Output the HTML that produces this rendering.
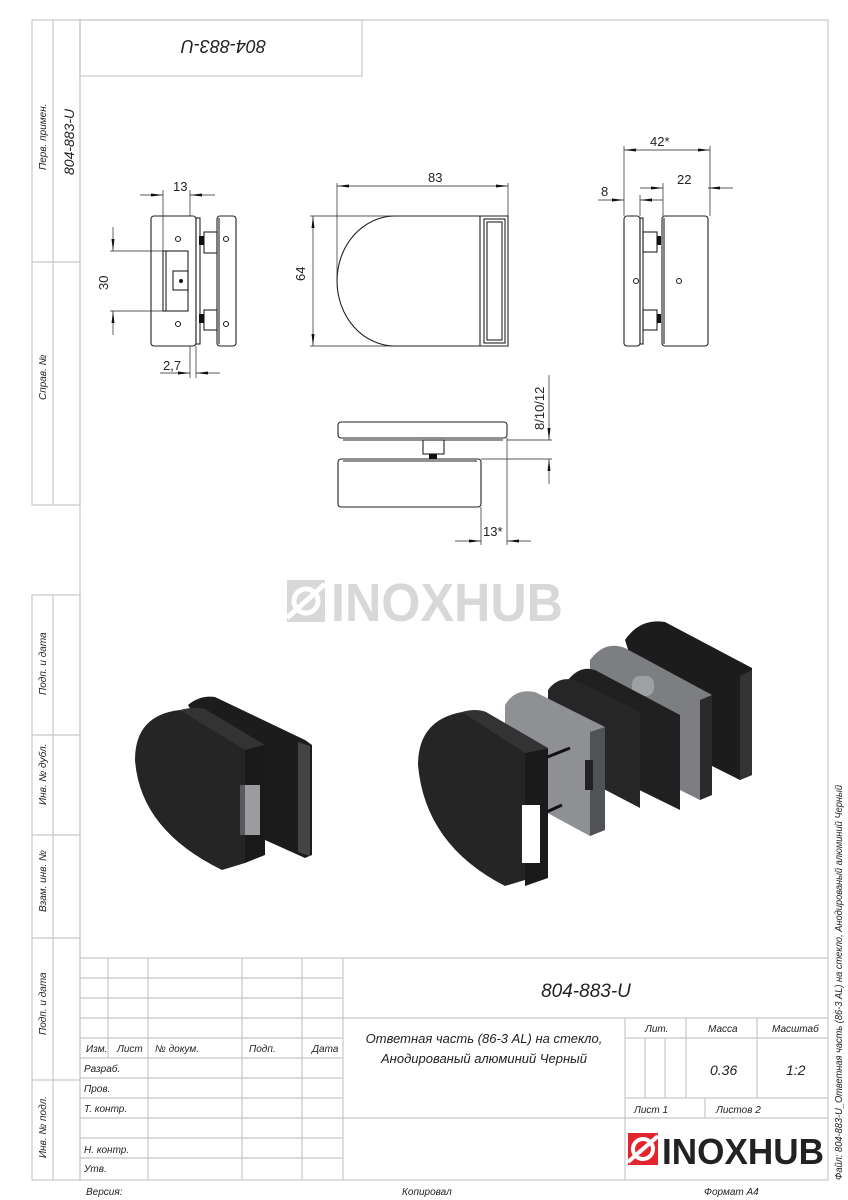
<!DOCTYPE html>
<html><head><meta charset="utf-8"><style>
html,body{margin:0;padding:0;background:#fff}
svg{display:block}
.t{font-family:"Liberation Sans",sans-serif;font-style:italic;fill:#222}
.d{font-family:"Liberation Sans",sans-serif;fill:#222}
</style></head><body>
<svg width="848" height="1200" viewBox="0 0 848 1200" xmlns="http://www.w3.org/2000/svg">
<defs>
<marker id="a" markerWidth="12" markerHeight="6" refX="12" refY="3" orient="auto-start-reverse" markerUnits="userSpaceOnUse"><path d="M0,1.5 L12,3 L0,4.5 Z" fill="#111"/></marker>
</defs>
<g fill="none" stroke="#c8c8c8" stroke-width="1.2">
<rect x="80" y="20" width="748" height="1160"/>
<rect x="80" y="20" width="282" height="56"/>
<rect x="32" y="20" width="48" height="485"/>
<line x1="53" y1="20" x2="53" y2="505"/><line x1="32" y1="262" x2="80" y2="262"/>
<rect x="32" y="595" width="48" height="585"/>
<line x1="53" y1="595" x2="53" y2="1180"/>
<line x1="32" y1="735" x2="80" y2="735"/><line x1="32" y1="835" x2="80" y2="835"/>
<line x1="32" y1="938" x2="80" y2="938"/><line x1="32" y1="1080" x2="80" y2="1080"/>
<line x1="80" y1="958" x2="828" y2="958"/>
<line x1="80" y1="978" x2="343" y2="978"/><line x1="80" y1="998" x2="343" y2="998"/>
<line x1="80" y1="1018" x2="828" y2="1018"/><line x1="80" y1="1038" x2="343" y2="1038"/>
<line x1="625" y1="1038" x2="828" y2="1038"/>
<line x1="80" y1="1058" x2="343" y2="1058"/><line x1="80" y1="1078" x2="343" y2="1078"/>
<line x1="80" y1="1098" x2="343" y2="1098"/><line x1="625" y1="1098" x2="828" y2="1098"/>
<line x1="80" y1="1118" x2="828" y2="1118"/><line x1="80" y1="1138" x2="343" y2="1138"/>
<line x1="80" y1="1158" x2="343" y2="1158"/>
<line x1="108" y1="958" x2="108" y2="1058"/><line x1="148" y1="958" x2="148" y2="1180"/>
<line x1="242" y1="958" x2="242" y2="1180"/><line x1="302" y1="958" x2="302" y2="1180"/>
<line x1="343" y1="958" x2="343" y2="1180"/>
<line x1="625" y1="1018" x2="625" y2="1180"/><line x1="686" y1="1018" x2="686" y2="1098"/>
<line x1="757" y1="1018" x2="757" y2="1098"/><line x1="705" y1="1098" x2="705" y2="1118"/>
<line x1="645" y1="1038" x2="645" y2="1098"/><line x1="665" y1="1038" x2="665" y2="1098"/>
</g>
<g class="t" font-size="10">
<text transform="translate(46,170) rotate(-90)">Перв. примен.</text>
<text transform="translate(46,400) rotate(-90)">Справ. №</text>
<text transform="translate(46,695) rotate(-90)">Подп. и дата</text>
<text transform="translate(46,805) rotate(-90)">Инв. № дубл.</text>
<text transform="translate(46,912) rotate(-90)">Взам. инв. №</text>
<text transform="translate(46,1035) rotate(-90)">Подп. и дата</text>
<text transform="translate(46,1158) rotate(-90)">Инв. № подл.</text>
<text transform="translate(74,175) rotate(-90)" font-size="14">804-883-U</text>
<text transform="translate(842,1180) rotate(-90)" font-size="10" textLength="395" lengthAdjust="spacingAndGlyphs">Файл: 804-883-U_Ответная часть (86-3 AL)  на стекло, Анодированый алюминий Черный</text>
<text transform="translate(266,40) rotate(180)" font-size="18">804-883-U</text>
</g>
<g class="t" font-size="10">
<text x="86" y="1052">Изм.</text><text x="117" y="1052">Лист</text><text x="155" y="1052">№ докум.</text>
<text x="249" y="1052">Подп.</text><text x="312" y="1052">Дата</text>
<text x="84" y="1072">Разраб.</text><text x="84" y="1092">Пров.</text><text x="84" y="1112">Т. контр.</text>
<text x="84" y="1153">Н. контр.</text><text x="84" y="1172">Утв.</text>
<text x="645" y="1032">Лит.</text><text x="708" y="1032">Масса</text><text x="772" y="1032">Масштаб</text>
<text x="634" y="1113">Лист 1</text><text x="716" y="1113">Листов 2</text>
<text x="710" y="1075" font-size="14">0.36</text><text x="786" y="1075" font-size="14">1:2</text>
<text x="484" y="1043" font-size="13" text-anchor="middle">Ответная часть (86-3 AL)  на стекло,</text>
<text x="484" y="1063" font-size="13" text-anchor="middle">Анодированый алюминий Черный</text>
<text x="586" y="997" font-size="19" text-anchor="middle">804-883-U</text>
<text x="86" y="1195">Версия:</text><text x="402" y="1195">Копировал</text><text x="704" y="1195">Формат A4</text>
</g>
<rect x="628" y="1133" width="30" height="32" fill="#e3262d"/>
<circle cx="643" cy="1149" r="10" fill="none" stroke="#fff" stroke-width="4"/>
<line x1="628" y1="1162" x2="658" y2="1136" stroke="#fff" stroke-width="4"/>
<text x="662" y="1164" font-family="Liberation Sans,sans-serif" font-weight="bold" font-size="36" fill="#222" textLength="162" lengthAdjust="spacingAndGlyphs">INOXHUB</text>
<rect x="287" y="580" width="38" height="42" fill="#d8d8d8"/>
<circle cx="306" cy="601" r="12" fill="none" stroke="#fff" stroke-width="5"/>
<line x1="287" y1="618" x2="325" y2="584" stroke="#fff" stroke-width="5"/>
<text x="331" y="621" font-family="Liberation Sans,sans-serif" font-weight="bold" font-size="54" fill="#d8d8d8" textLength="232" lengthAdjust="spacingAndGlyphs">INOXHUB</text>

<g fill="none" stroke="#222" stroke-width="1.1">
<rect x="151" y="216" width="45" height="130" rx="3"/>
<rect x="196" y="218" width="4" height="126"/>
<rect x="217" y="216" width="19" height="130" rx="3"/>
<line x1="219" y1="218" x2="219" y2="344"/>
<rect x="204" y="232" width="13" height="21"/><rect x="204" y="310" width="13" height="20"/>
<rect x="163" y="251" width="25" height="60"/><line x1="166" y1="251" x2="166" y2="311"/>
<rect x="173" y="271" width="15" height="19"/>
<circle cx="178" cy="239" r="2.5"/><circle cx="178" cy="324" r="2.5"/>
<circle cx="226" cy="239" r="2.5"/><circle cx="226" cy="324" r="2.5"/>
<path d="M395,216 L508,216 L508,346 L395,346 A58,65 0 0 1 395,216 Z"/>
<line x1="480" y1="216" x2="480" y2="346"/>
<rect x="484" y="219" width="21" height="124"/><rect x="487" y="222" width="15" height="118"/>
<rect x="624" y="216" width="16" height="130" rx="3"/>
<rect x="640" y="218" width="3" height="126"/>
<rect x="643" y="232" width="14" height="20"/><rect x="643" y="310" width="14" height="20"/>
<rect x="662" y="216" width="46" height="130" rx="3"/><line x1="664" y1="218" x2="664" y2="344"/>
<circle cx="636" cy="281" r="2.5"/><circle cx="679" cy="281" r="2.5"/>
<rect x="338" y="422" width="169" height="16" rx="3"/>
<line x1="343" y1="440" x2="503" y2="440"/>
<rect x="423" y="440" width="21" height="14"/>
<rect x="338" y="459" width="143" height="48" rx="3"/>
<line x1="343" y1="461" x2="477" y2="461"/>
</g>
<g fill="#111">
<rect x="199" y="236" width="5" height="9"/><rect x="199" y="314" width="5" height="9"/>
<rect x="657" y="236" width="4" height="9"/><rect x="657" y="314" width="4" height="9"/>
<rect x="429" y="454" width="8" height="5"/>
<circle cx="181" cy="281" r="2"/>
</g>
<g fill="none" stroke="#222" stroke-width="0.7">
<line x1="163" y1="190" x2="163" y2="251"/><line x1="190" y1="190" x2="190" y2="216"/>
<line x1="140" y1="195" x2="163" y2="195" marker-end="url(#a)"/><line x1="215" y1="195" x2="190" y2="195" marker-end="url(#a)"/>
<line x1="110" y1="251" x2="163" y2="251"/><line x1="110" y1="311" x2="163" y2="311"/>
<line x1="113" y1="227" x2="113" y2="251" marker-end="url(#a)"/><line x1="113" y1="335" x2="113" y2="311" marker-end="url(#a)"/>
<line x1="190" y1="346" x2="190" y2="378"/><line x1="196" y1="346" x2="196" y2="378"/>
<line x1="160" y1="373" x2="190" y2="373" marker-end="url(#a)"/><line x1="220" y1="373" x2="196" y2="373" marker-end="url(#a)"/>
<line x1="337" y1="183" x2="337" y2="281"/><line x1="508" y1="183" x2="508" y2="216"/>
<line x1="337" y1="186" x2="508" y2="186" marker-start="url(#a)" marker-end="url(#a)"/>
<line x1="310" y1="216" x2="395" y2="216"/><line x1="310" y1="346" x2="395" y2="346"/>
<line x1="313" y1="216" x2="313" y2="346" marker-start="url(#a)" marker-end="url(#a)"/>
<line x1="624" y1="146" x2="624" y2="216"/><line x1="710" y1="146" x2="710" y2="216"/>
<line x1="624" y1="150" x2="710" y2="150" marker-start="url(#a)" marker-end="url(#a)"/>
<line x1="663" y1="183" x2="663" y2="216"/><line x1="640" y1="195" x2="640" y2="216"/>
<line x1="640" y1="188" x2="663" y2="188" marker-end="url(#a)"/><line x1="733" y1="188" x2="708" y2="188" marker-end="url(#a)"/>
<line x1="598" y1="200" x2="624" y2="200" marker-end="url(#a)"/><line x1="663" y1="200" x2="640" y2="200" marker-end="url(#a)"/>
<line x1="507" y1="440" x2="552" y2="440"/><line x1="481" y1="459" x2="552" y2="459"/>
<line x1="549" y1="375" x2="549" y2="440" marker-end="url(#a)"/><line x1="549" y1="484" x2="549" y2="459" marker-end="url(#a)"/>
<line x1="481" y1="507" x2="481" y2="545"/><line x1="507" y1="438" x2="507" y2="545"/>
<line x1="455" y1="541" x2="481" y2="541" marker-end="url(#a)"/><line x1="531" y1="541" x2="507" y2="541" marker-end="url(#a)"/>
</g>
<g class="d" font-size="13">
<text x="173" y="191">13</text><text transform="translate(108,290) rotate(-90)">30</text>
<text x="163" y="370">2,7</text><text x="428" y="182">83</text>
<text transform="translate(305,281) rotate(-90)">64</text>
<text x="650" y="146">42*</text><text x="677" y="184">22</text><text x="601" y="196">8</text>
<text transform="translate(544,430) rotate(-90)">8/10/12</text><text x="483" y="536">13*</text>
</g>

<path d="M188,705 Q200,695 215,697 L305,740 L312,745 L312,855 L305,858 L265,840 Z" fill="#1c1c1c"/>
<path d="M298,742 L310,746 L310,856 L298,852 Z" fill="#444"/>
<path d="M135,760 Q135,715 180,710 L245,742 L245,863 L222,870 Q140,830 135,760 Z" fill="#252525"/>
<path d="M180,710 Q195,706 205,709 L265,745 L245,750 Z" fill="#333"/>
<path d="M245,750 L265,745 L265,855 L245,863 Z" fill="#1a1a1a"/>
<rect x="240" y="785" width="20" height="50" fill="#9a9ca0"/>
<rect x="240" y="785" width="5" height="50" fill="#5a5a5e"/>

<path d="M625,640 Q640,618 665,622 L752,668 L752,775 L740,780 L700,760 L655,735 Z" fill="#1c1c1c"/>
<path d="M740,676 L752,670 L752,775 L740,780 Z" fill="#333"/>
<path d="M590,660 Q605,640 625,648 L712,695 L712,795 L700,800 L590,745 Z" fill="#7c7e82"/>
<path d="M700,700 L712,695 L712,795 L700,800 Z" fill="#2a2a2a"/>
<rect x="632" y="676" width="22" height="20" rx="8" fill="#9ea0a4"/>
<path d="M568,680 Q580,665 595,670 L680,715 L680,810 L568,755 Z" fill="#202020"/>
<path d="M548,690 Q558,676 575,680 L640,712 L640,808 L548,760 Z" fill="#262626"/>
<path d="M505,705 Q515,688 535,692 L605,727 L605,830 L590,836 L505,790 Z" fill="#8e9094"/>
<path d="M590,732 L605,727 L605,830 L590,836 Z" fill="#505257"/>
<rect x="585" y="760" width="8" height="30" fill="#222"/>
<line x1="540" y1="760" x2="570" y2="748" stroke="#111" stroke-width="3"/>
<line x1="540" y1="815" x2="562" y2="805" stroke="#111" stroke-width="3"/>
<path d="M418,765 Q418,720 462,712 L525,745 L525,880 L505,886 Q425,845 418,765 Z" fill="#252525"/>
<path d="M462,712 Q476,708 486,712 L548,748 L525,753 Z" fill="#333"/>
<path d="M525,753 L548,748 L548,878 L525,886 Z" fill="#1a1a1a"/>
<rect x="522" y="805" width="18" height="58" fill="#fff"/>
</svg>
</body></html>
